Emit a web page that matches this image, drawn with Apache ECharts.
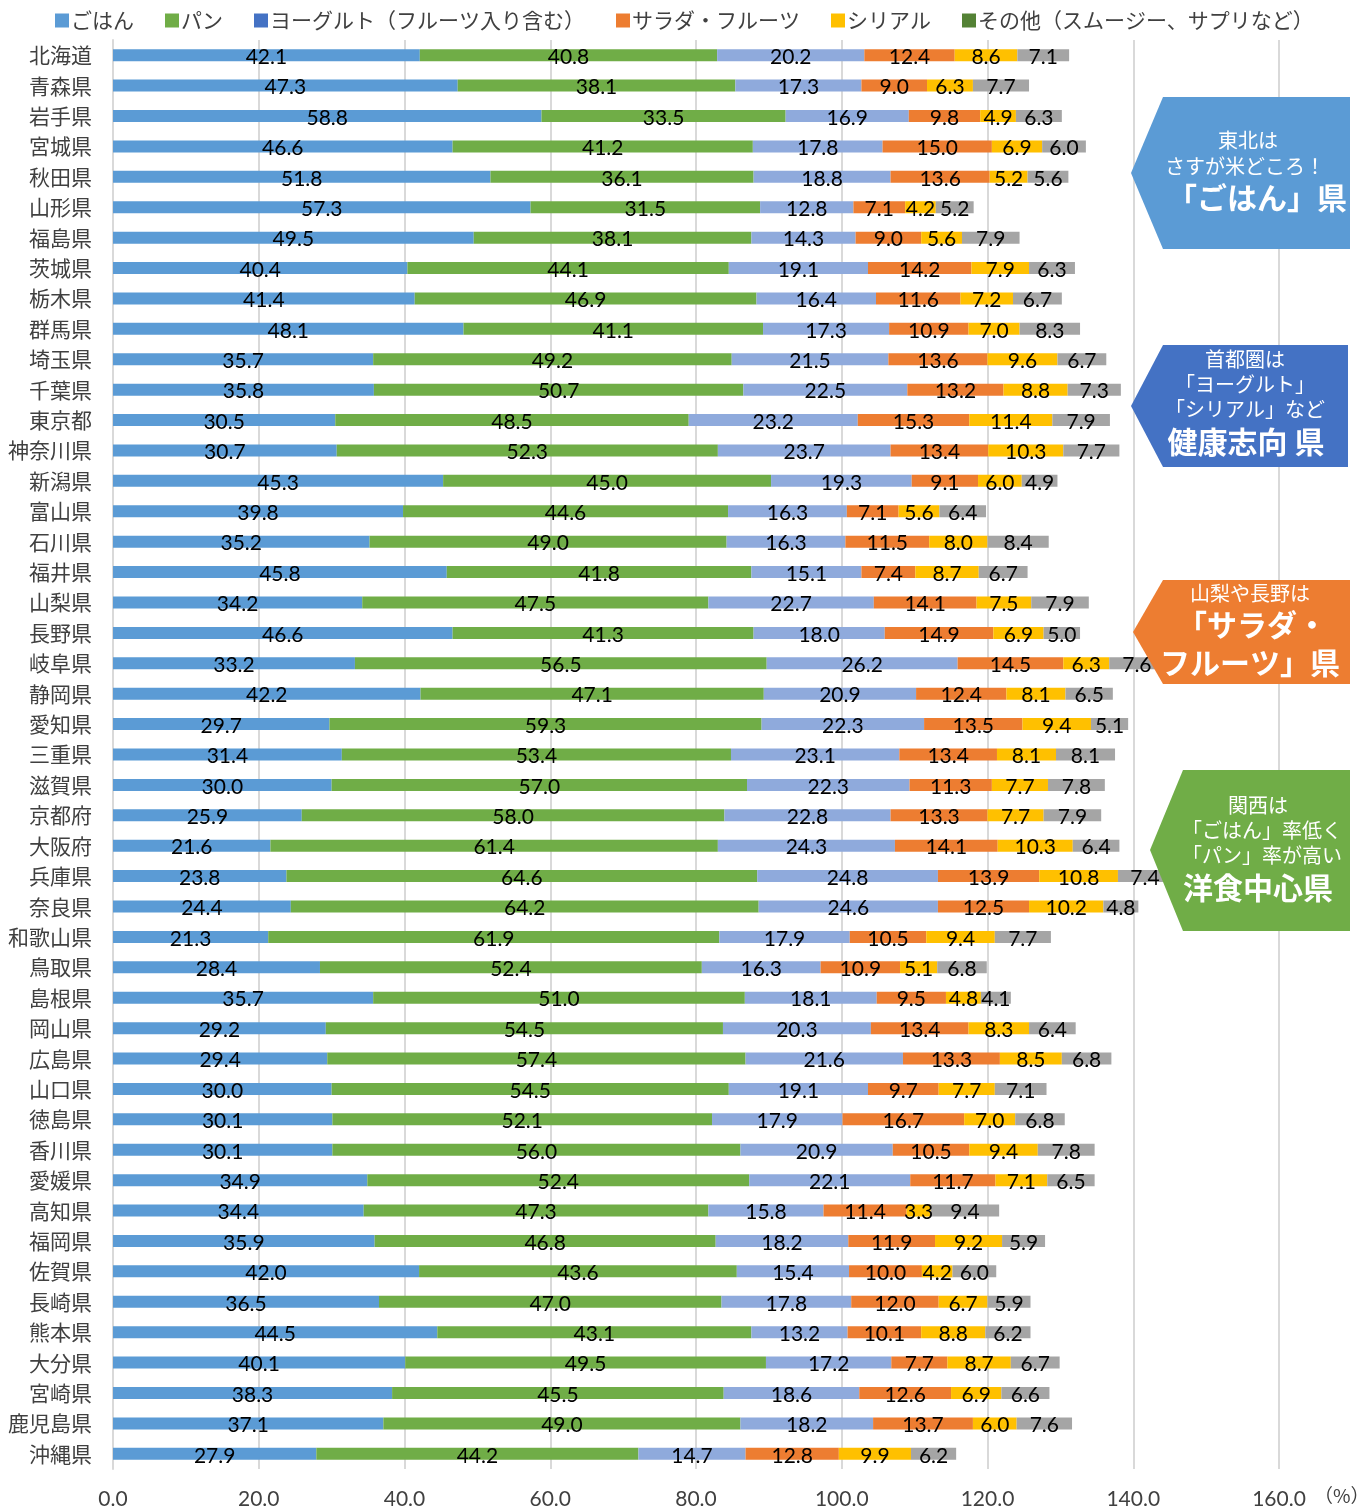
<!DOCTYPE html>
<html><head><meta charset="utf-8">
<script src="https://cdn.jsdelivr.net/npm/echarts@6/dist/echarts.min.js"></script>
<style>html,body{margin:0;padding:0;background:#fff}#c{width:1365px;height:1510px}</style>
</head><body><div id="c"></div>
<script>
const prefectures = ["北海道","青森県","岩手県","宮城県","秋田県","山形県","福島県","茨城県","栃木県","群馬県","埼玉県","千葉県","東京都","神奈川県","新潟県","富山県","石川県","福井県","山梨県","長野県","岐阜県","静岡県","愛知県","三重県","滋賀県","京都府","大阪府","兵庫県","奈良県","和歌山県","鳥取県","島根県","岡山県","広島県","山口県","徳島県","香川県","愛媛県","高知県","福岡県","佐賀県","長崎県","熊本県","大分県","宮崎県","鹿児島県","沖縄県"];
const seriesNames = ["ごはん","パン","ヨーグルト（フルーツ入り含む）","サラダ・フルーツ","シリアル","その他（スムージー、サプリなど）"];
const gohan = [42.1,47.3,58.8,46.6,51.8,57.3,49.5,40.4,41.4,48.1,35.7,35.8,30.5,30.7,45.3,39.8,35.2,45.8,34.2,46.6,33.2,42.2,29.7,31.4,30.0,25.9,21.6,23.8,24.4,21.3,28.4,35.7,29.2,29.4,30.0,30.1,30.1,34.9,34.4,35.9,42.0,36.5,44.5,40.1,38.3,37.1,27.9];
const pan = [40.8,38.1,33.5,41.2,36.1,31.5,38.1,44.1,46.9,41.1,49.2,50.7,48.5,52.3,45.0,44.6,49.0,41.8,47.5,41.3,56.5,47.1,59.3,53.4,57.0,58.0,61.4,64.6,64.2,61.9,52.4,51.0,54.5,57.4,54.5,52.1,56.0,52.4,47.3,46.8,43.6,47.0,43.1,49.5,45.5,49.0,44.2];
const yogurt = [20.2,17.3,16.9,17.8,18.8,12.8,14.3,19.1,16.4,17.3,21.5,22.5,23.2,23.7,19.3,16.3,16.3,15.1,22.7,18.0,26.2,20.9,22.3,23.1,22.3,22.8,24.3,24.8,24.6,17.9,16.3,18.1,20.3,21.6,19.1,17.9,20.9,22.1,15.8,18.2,15.4,17.8,13.2,17.2,18.6,18.2,14.7];
const salad = [12.4,9.0,9.8,15.0,13.6,7.1,9.0,14.2,11.6,10.9,13.6,13.2,15.3,13.4,9.1,7.1,11.5,7.4,14.1,14.9,14.5,12.4,13.5,13.4,11.3,13.3,14.1,13.9,12.5,10.5,10.9,9.5,13.4,13.3,9.7,16.7,10.5,11.7,11.4,11.9,10.0,12.0,10.1,7.7,12.6,13.7,12.8];
const cereal = [8.6,6.3,4.9,6.9,5.2,4.2,5.6,7.9,7.2,7.0,9.6,8.8,11.4,10.3,6.0,5.6,8.0,8.7,7.5,6.9,6.3,8.1,9.4,8.1,7.7,7.7,10.3,10.8,10.2,9.4,5.1,4.8,8.3,8.5,7.7,7.0,9.4,7.1,3.3,9.2,4.2,6.7,8.8,8.7,6.9,6.0,9.9];
const other = [7.1,7.7,6.3,6.0,5.6,5.2,7.9,6.3,6.7,8.3,6.7,7.3,7.9,7.7,4.9,6.4,8.4,6.7,7.9,5.0,7.6,6.5,5.1,8.1,7.8,7.9,6.4,7.4,4.8,7.7,6.8,4.1,6.4,6.8,7.1,6.8,7.8,6.5,9.4,5.9,6.0,5.9,6.2,6.7,6.6,7.6,6.2];
const xTicks = [0,20,40,60,80,100,120,140,160];

const barColors = ['#5B9BD5','#70AD47','#8FAADC','#ED7D31','#FFC000','#A5A5A5'];
const legendColors = ['#5B9BD5','#70AD47','#4472C4','#ED7D31','#FFC000','#548235'];
const values = [gohan, pan, yogurt, salad, cereal, other];
const NUM_FONT = "Lato,'Noto Sans',sans-serif";
const JP_FONT = "'Noto Sans CJK JP','Noto Sans',sans-serif";

const chart = echarts.init(document.getElementById('c'), null, {renderer:'canvas'});

const series = seriesNames.map((n,i)=>({
  name:n, type:'bar', stack:'total', barWidth:12,
  itemStyle:{color:barColors[i]},
  label:{show:true, position:'inside', color:'#000', fontSize:21, fontFamily:NUM_FONT,
    offset:[0,2], formatter:p=>p.value.toFixed(1)},
  emphasis:{disabled:true},
  data: values[i]
}));

function box(points, color, texts){
  const out = [{type:'polygon', shape:{points}, style:{fill:color}, z:100}];
  texts.forEach(t=>out.push({type:'text', x:t[1], y:t[2], z:101, style:{text:t[0], fill:'#fff', font:(t[4]?'bold ':'')+t[3]+'px '+JP_FONT, textAlign:'center', textVerticalAlign:'middle'}}));
  return out;
}

chart.setOption({
  animation:false,
  legend:{
    top:5, left:50, itemWidth:14, itemHeight:14, itemGap:31,
    textStyle:{fontSize:21, color:'#404040', fontFamily:JP_FONT, padding:[0,0,0,-3]},
    data: seriesNames.map((n,i)=>({name:n, icon:'rect', itemStyle:{color:legendColors[i]}}))
  },
  grid:{left:113, right:86, top:40, bottom:41, containLabel:false},
  xAxis:{type:'value', min:0, max:160, interval:20,
    axisLine:{show:false}, axisTick:{show:false},
    splitLine:{lineStyle:{color:'#D9D9D9', width:2}},
    axisLabel:{margin:20, fontSize:21, color:'#404040', fontFamily:NUM_FONT, formatter:v=>xTicks.includes(v)?v.toFixed(1):''}},
  yAxis:{type:'category', inverse:true, data:prefectures,
    axisLine:{show:true, lineStyle:{color:'#D9D9D9', width:2}}, axisTick:{show:false},
    axisLabel:{margin:21, fontSize:21, color:'#404040', fontFamily:JP_FONT}},
  series,
  graphic:[
    {type:'text', left:1314, top:1486, style:{text:'（%）', font:'19px '+JP_FONT, fill:'#404040'}},
    ...box([[1131,173],[1163,97],[1350,97],[1350,249],[1163,249]], '#5B9BD5',
      [['東北は',1248,140,20,false],['さすが米どころ！',1245,166,20,false],['「ごはん」県',1257,198,30,true]]),
    ...box([[1131,406],[1163,345],[1348,345],[1348,467],[1163,467]], '#4472C4',
      [['首都圏は',1245,359,20,false],['「ヨーグルト」',1245,384,20,false],['「シリアル」など',1245,409,20,false],['健康志向 県',1246,442,30,true]]),
    ...box([[1133,632],[1163,580],[1350,580],[1350,684],[1163,684]], '#ED7D31',
      [['山梨や長野は',1250,593,20,false],['「サラダ・',1252,625,30,true],['フルーツ」県',1250,663,30,true]]),
    ...box([[1150,850],[1183,770],[1350,770],[1350,931],[1183,931]], '#70AD47',
      [['関西は',1258,805,20,false],['「ごはん」率低く',1262,830,20,false],['「パン」率が高い',1262,855,20,false],['洋食中心県',1258,888,30,true]])
  ]
});
</script></body></html>
